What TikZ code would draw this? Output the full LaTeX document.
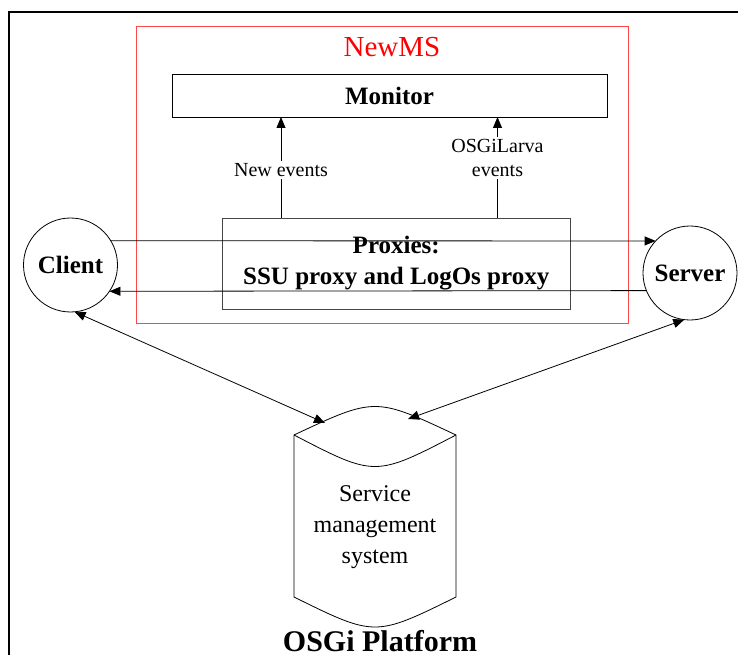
\documentclass[tikz,border=0pt]{standalone}
\usepackage{fontspec}
\setmainfont{Liberation Serif}
\usetikzlibrary{arrows.meta}
\definecolor{boxred}{RGB}{255,70,70}
\definecolor{proxgray}{RGB}{70,70,70}
\tikzset{
  arr/.style={draw=black, line width=0.8pt, -{Triangle[length=11pt,width=9pt]}},
  darr/.style={draw=black, line width=0.8pt, {Triangle[length=11pt,width=9pt]}-{Triangle[length=11pt,width=9pt]}},
  bigbold/.style={font=\fontsize{25}{31}\selectfont\bfseries},
  lbl/.style={fill=white, inner sep=2pt, align=center, font=\fontsize{20}{24}\selectfont},
  party/.style={circle, draw, line width=0.8pt, minimum size=94pt, inner sep=0pt, outer sep=0pt, bigbold},
}
\begin{document}
\begin{tikzpicture}[x=1pt,y=-1pt]
\useasboundingbox (0,0) rectangle (739,655);
% outer frame (top and left only)
\draw[line width=1.3pt] (9,655) -- (9,12) -- (738,12);
% NewMS box
\draw[boxred, line width=1pt] (136,27) rectangle (628,323);
\node[text=red, font=\fontsize{29}{34}\selectfont] (newms) at (392,47) {NewMS};
% Monitor
\node[draw, line width=0.8pt, minimum width=435pt, minimum height=43pt, inner sep=0pt, outer sep=0pt, bigbold] (monitor) at (389.5,95.5) {Monitor};
% Proxies
\node[draw=proxgray, line width=0.8pt, minimum width=347.5pt, minimum height=91pt, inner sep=0pt, outer sep=0pt, align=center, bigbold] (proxy) at (396.25,263.5) {Proxies:\\SSU proxy and LogOs proxy};
% event arrows
\coordinate (e1) at (281,0);
\coordinate (e2) at (497.5,0);
\draw[arr] (e1 |- proxy.north) -- node[lbl, pos=0.475] (lnew) {New events} (e1 |- monitor.south);
\draw[arr] (e2 |- proxy.north) -- node[lbl, pos=0.594] (lold) {OSGiLarva\\events} (e2 |- monitor.south);
% Client and Server
\node[party] (client) at (70.5,265) {Client};
\node[party] (server) at (690,273) {Server};
\draw[arr] (client.31) -- (server.137);
\draw[arr] (server.202) -- (client.-34);
% Cylinder
\draw[line width=0.8pt, fill=white]
  (294,435) .. controls (375,397) .. (456,435) -- (456,597)
  .. controls (375,637) .. (294,597) -- cycle;
\draw[line width=0.8pt] (294,435) .. controls (375,477) .. (456,435);
\node[align=center, font=\fontsize{24}{31}\selectfont] (sms) at (375,527) {Service\\management\\system};
\coordinate (cylL) at (325,423);
\coordinate (cylR) at (408,419);
\draw[darr] (client.-85) -- (cylL);
\draw[darr] (server.-97) -- (cylR);
% Platform label
\node[font=\fontsize{30}{36}\selectfont\bfseries] (osgi) at (380,641) {OSGi Platform};
\end{tikzpicture}
\end{document}
